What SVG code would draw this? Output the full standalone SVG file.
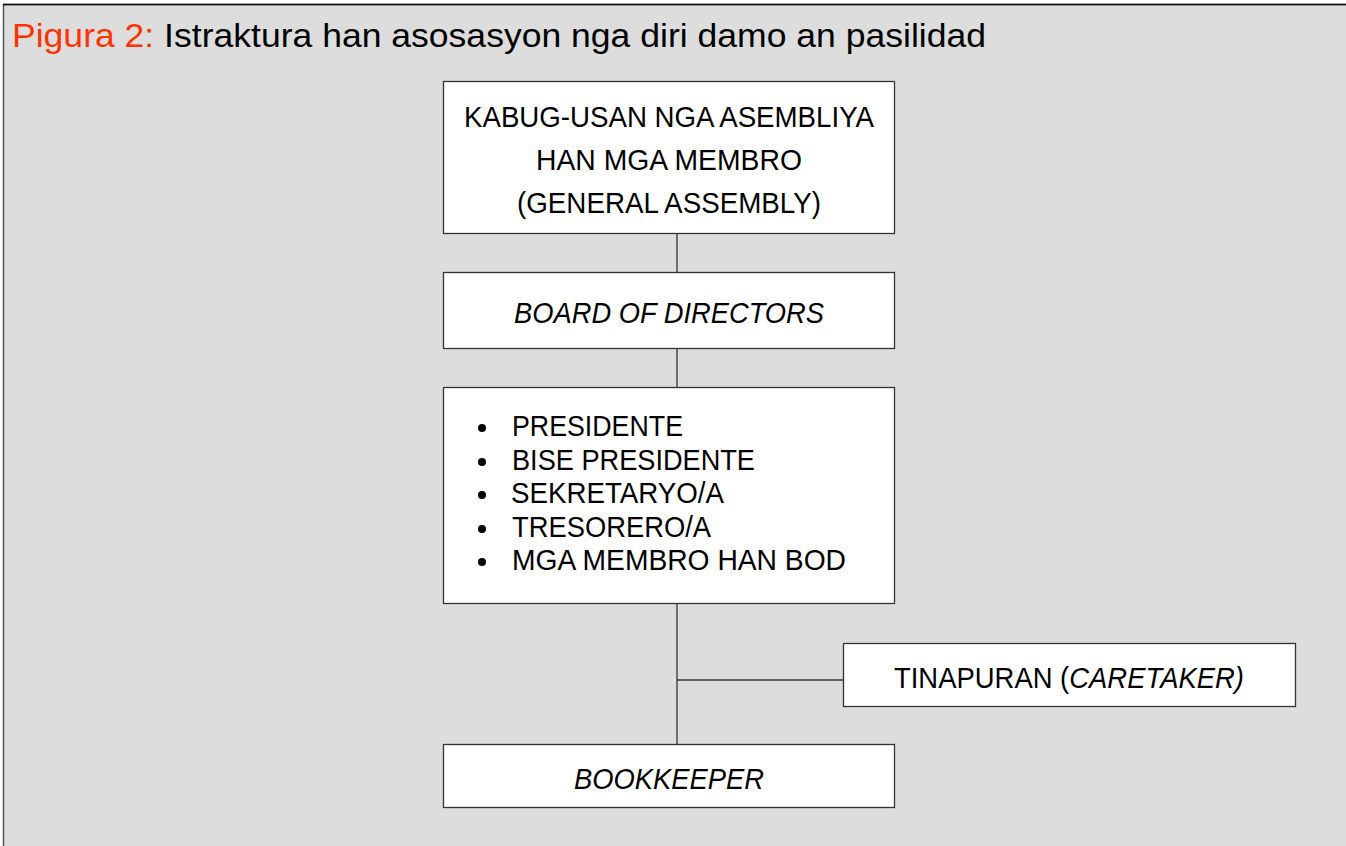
<svg xmlns="http://www.w3.org/2000/svg" width="1346" height="846" viewBox="0 0 1346 846">
<style>
.box{fill:#ffffff;stroke:#333333;stroke-width:1.3}
.t{font-family:"Liberation Sans Narrow","Liberation Sans",Arial,sans-serif;font-size:29px;fill:#000000}
.c{text-anchor:middle}
.i{font-style:italic}
.ln{stroke:#333333;stroke-width:1.3;fill:none}
</style>
<rect x="0" y="0" width="1346" height="846" fill="#ffffff"/>
<rect x="3.5" y="4.5" width="1352" height="852" fill="#dddddd" stroke="#555555" stroke-width="1.5"/>
<line x1="3" y1="4.5" x2="1346" y2="4.5" stroke="#111111" stroke-width="1.5"/>
<text id="title" x="12" y="47" font-family="'Liberation Sans Narrow','Liberation Sans',Arial,sans-serif" font-size="34" textLength="974" lengthAdjust="spacingAndGlyphs"><tspan fill="#ff3300">Pigura 2:</tspan><tspan fill="#000000"> Istraktura han asosasyon nga diri damo an pasilidad</tspan></text>
<g id="connectors">
<line class="ln" x1="677" y1="233" x2="677" y2="272"/>
<line class="ln" x1="677" y1="348" x2="677" y2="387"/>
<line class="ln" x1="677" y1="603" x2="677" y2="744"/>
<line class="ln" x1="677" y1="680" x2="843" y2="680"/>
</g>
<g id="general-assembly">
<rect class="box" x="443.5" y="81.5" width="451" height="152"/>
<text class="t c" x="669" y="127" textLength="410" lengthAdjust="spacingAndGlyphs">KABUG-USAN NGA ASEMBLIYA</text>
<text class="t c" x="669" y="170" textLength="266" lengthAdjust="spacingAndGlyphs">HAN MGA MEMBRO</text>
<text class="t c" x="669" y="213" textLength="304" lengthAdjust="spacingAndGlyphs">(GENERAL ASSEMBLY)</text>
</g>
<g id="board">
<rect class="box" x="443.5" y="272.5" width="451" height="76"/>
<text class="t c i" x="669" y="323" textLength="310" lengthAdjust="spacingAndGlyphs">BOARD OF DIRECTORS</text>
</g>
<g id="officers">
<rect class="box" x="443.5" y="387.5" width="451" height="216"/>
<circle cx="482" cy="428" r="4"/>
<circle cx="482" cy="462" r="4"/>
<circle cx="482" cy="495" r="4"/>
<circle cx="482" cy="529" r="4"/>
<circle cx="482" cy="562" r="4"/>
<text class="t" x="512" y="436" textLength="171" lengthAdjust="spacingAndGlyphs">PRESIDENTE</text>
<text class="t" x="512" y="470" textLength="243" lengthAdjust="spacingAndGlyphs">BISE PRESIDENTE</text>
<text class="t" x="511" y="503" textLength="213" lengthAdjust="spacingAndGlyphs">SEKRETARYO/A</text>
<text class="t" x="512" y="537" textLength="199" lengthAdjust="spacingAndGlyphs">TRESORERO/A</text>
<text class="t" x="512" y="570" textLength="334" lengthAdjust="spacingAndGlyphs">MGA MEMBRO HAN BOD</text>
</g>
<g id="caretaker">
<rect class="box" x="843.5" y="643.5" width="452" height="63"/>
<text class="t" x="894" y="688" textLength="350" lengthAdjust="spacingAndGlyphs">TINAPURAN (<tspan class="i">CARETAKER)</tspan></text>
</g>
<g id="bookkeeper">
<rect class="box" x="443.5" y="744.5" width="451" height="63"/>
<text class="t c i" x="669" y="789" textLength="190" lengthAdjust="spacingAndGlyphs">BOOKKEEPER</text>
</g>
</svg>
